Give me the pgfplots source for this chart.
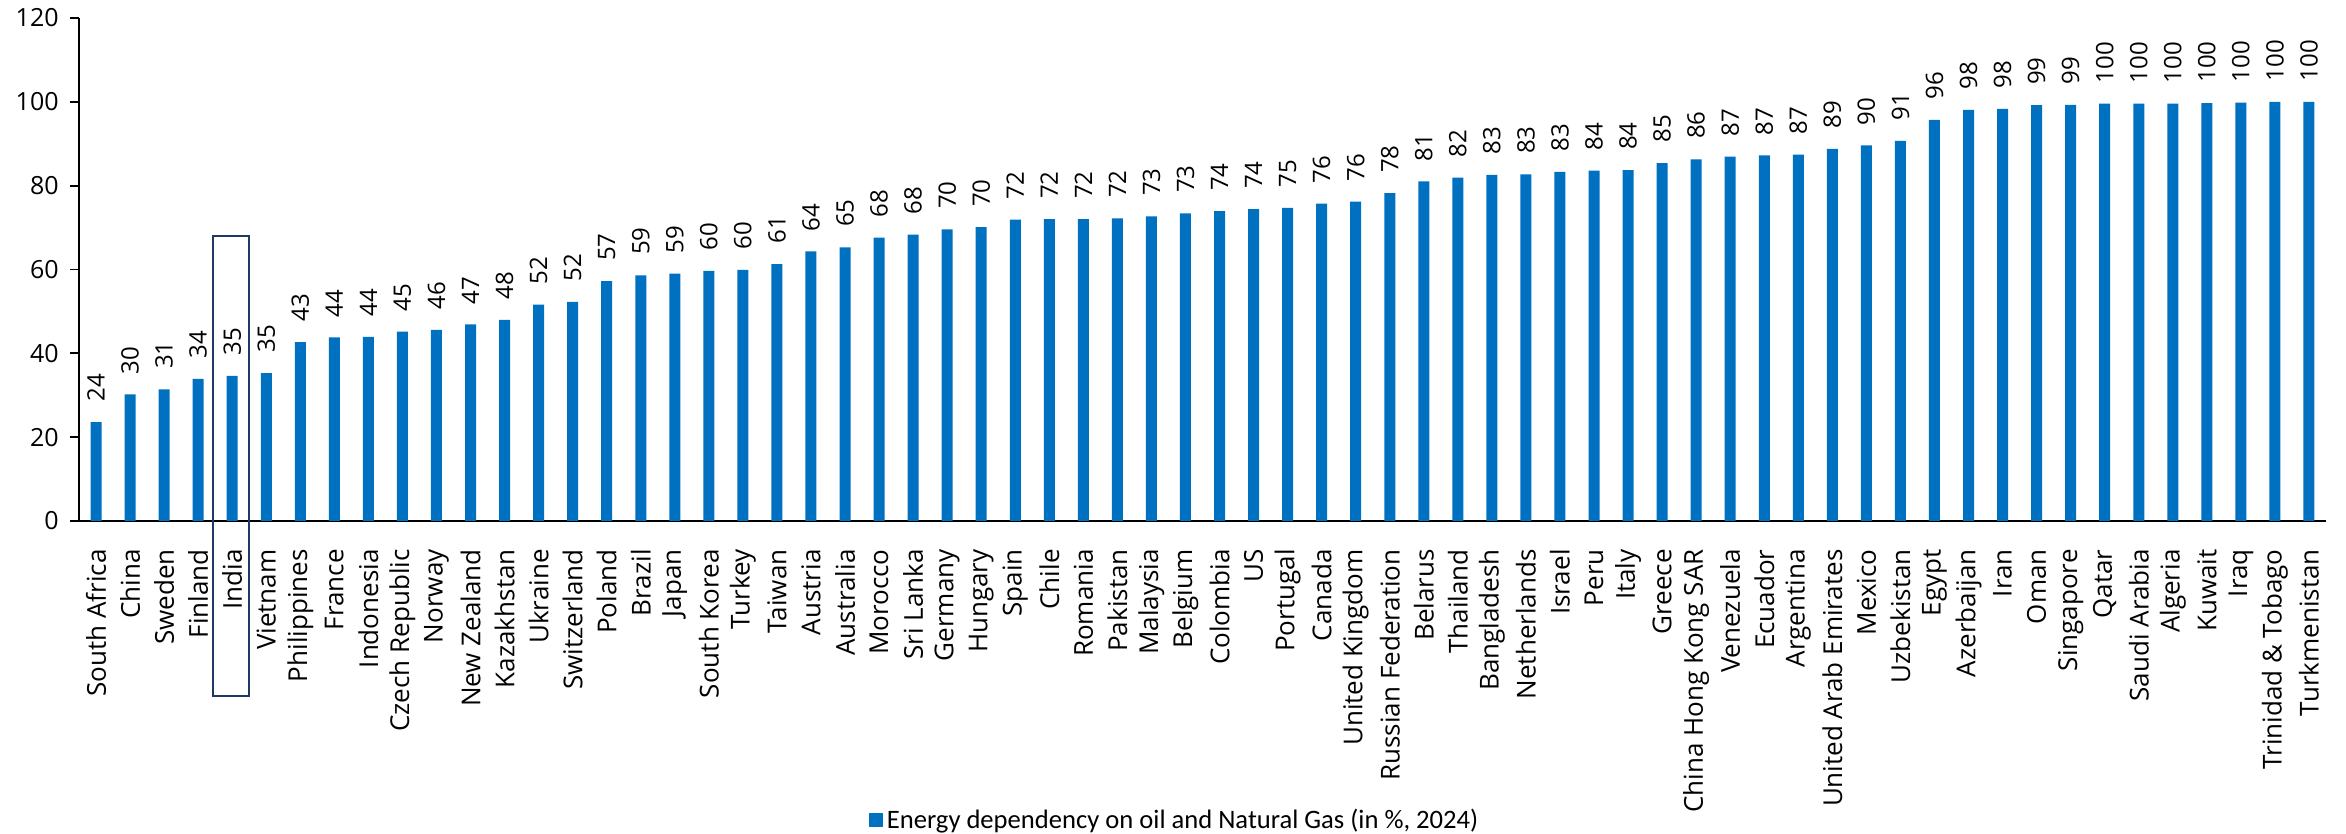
\documentclass[border=0pt]{standalone}
\usepackage{fontspec}
\setmainfont{Open Sans}
\newfontfamily\legendfont{Carlito}
\usepackage{pgfplots}
\usepackage{pgfplotstable}
\pgfplotsset{compat=1.18}

\definecolor{barblue}{HTML}{0070C0}
\definecolor{boxnavy}{HTML}{1F3864}

% Dependency on oil and natural gas, in % (2024), sorted ascending
\pgfplotstableread{
idx value
0  23.6
1  30.2
2  31.4
3  33.9
4  34.6
5  35.3
6  42.7
7  43.8
8  43.9
9  45.2
10 45.6
11 46.9
12 48.0
13 51.6
14 52.3
15 57.2
16 58.6
17 59.0
18 59.7
19 59.9
20 61.3
21 64.3
22 65.3
23 67.6
24 68.3
25 69.6
26 70.1
27 71.9
28 72.0
29 72.0
30 72.2
31 72.7
32 73.4
33 73.9
34 74.4
35 74.7
36 75.7
37 76.2
38 78.2
39 81.0
40 81.9
41 82.6
42 82.7
43 83.3
44 83.6
45 83.7
46 85.4
47 86.3
48 86.9
49 87.2
50 87.4
51 88.8
52 89.6
53 90.7
54 95.7
55 98.1
56 98.3
57 99.2
58 99.3
59 99.6
60 99.6
61 99.6
62 99.7
63 99.8
64 100.0
65 100.0
}\energydata

\begin{document}
\begin{tikzpicture}
\begin{axis}[
  name=ax,
  scale only axis,
  width=1123.5pt, height=251.5pt,
  xmin=-0.5, xmax=65.5,
  ymin=0, ymax=120,
  ytick={0,20,...,120},
  axis x line*=bottom,
  axis y line*=left,
  axis line style={black, line width=0.9pt},
  tick align=outside,
  tick style={black, line width=0.9pt},
  major tick length=4.5pt,
  xtick={0,...,65},
  x tick style={draw=none},
  minor xtick={-0.5,0.5,...,65.5},
  minor x tick style={black, line width=0.9pt},
  minor tick length=4pt,
  xticklabels={South Africa, China, Sweden, Finland, India, Vietnam, Philippines, France, Indonesia, Czech Republic, Norway, New Zealand, Kazakhstan, Ukraine, Switzerland, Poland, Brazil, Japan, South Korea, Turkey, Taiwan, Austria, Australia, Morocco, Sri Lanka, Germany, Hungary, Spain, Chile, Romania, Pakistan, Malaysia, Belgium, Colombia, US, Portugal, Canada, United Kingdom, Russian Federation, Belarus, Thailand, Bangladesh, Netherlands, Israel, Peru, Italy, Greece, China Hong Kong SAR, Venezuela, Ecuador, Argentina, United Arab Emirates, Mexico, Uzbekistan, Egypt, Azerbaijan, Iran, Oman, Singapore, Qatar, Saudi Arabia, Algeria, Kuwait, Iraq, Trinidad \& Tobago, Turkmenistan},
  x tick label style={rotate=90, anchor=east, inner xsep=9.5pt, inner ysep=0pt,
    font=\fontsize{13}{15}\selectfont},
  y tick label style={font=\fontsize{12.5}{14}\selectfont, inner xsep=0pt, xshift=-5.5pt},
  /pgf/number format/assume math mode=true,
  clip=false,
  legend style={at={(rel axis cs:0.488,-0.594)}, anchor=center, draw=none,
    fill=none, font=\legendfont\fontsize{13.3}{15}\selectfont,
    /tikz/every even column/.append style={column sep=0pt}},
  legend image code/.code={\fill[barblue] (0pt,-3.5pt) rectangle (7pt,3.5pt);},
  legend cell align=left,
]
\addplot[ybar, bar width=5.5pt, fill=barblue, draw=none,
  point meta=y,
  nodes near coords,
  every node near coord/.append style={rotate=90, anchor=west,
    inner xsep=10pt, inner ysep=0pt, black,
    font=\fontsize{12}{13}\selectfont,
    /pgf/number format/fixed, /pgf/number format/precision=0}]
  table[x=idx, y=value] {\energydata};
\addlegendentry{Energy dependency on oil and Natural Gas (in \%, 2024)}

% highlight around India
\draw[boxnavy, line width=1pt] (axis cs:3.45,68.1) rectangle (axis cs:4.5,-41.8);
\end{axis}
\pgfresetboundingbox
\path[use as bounding box] ([xshift=-39.5pt,yshift=-156.5pt]ax.south west)
  rectangle ([xshift=10pt,yshift=9pt]ax.north east);
\end{tikzpicture}
\end{document}
